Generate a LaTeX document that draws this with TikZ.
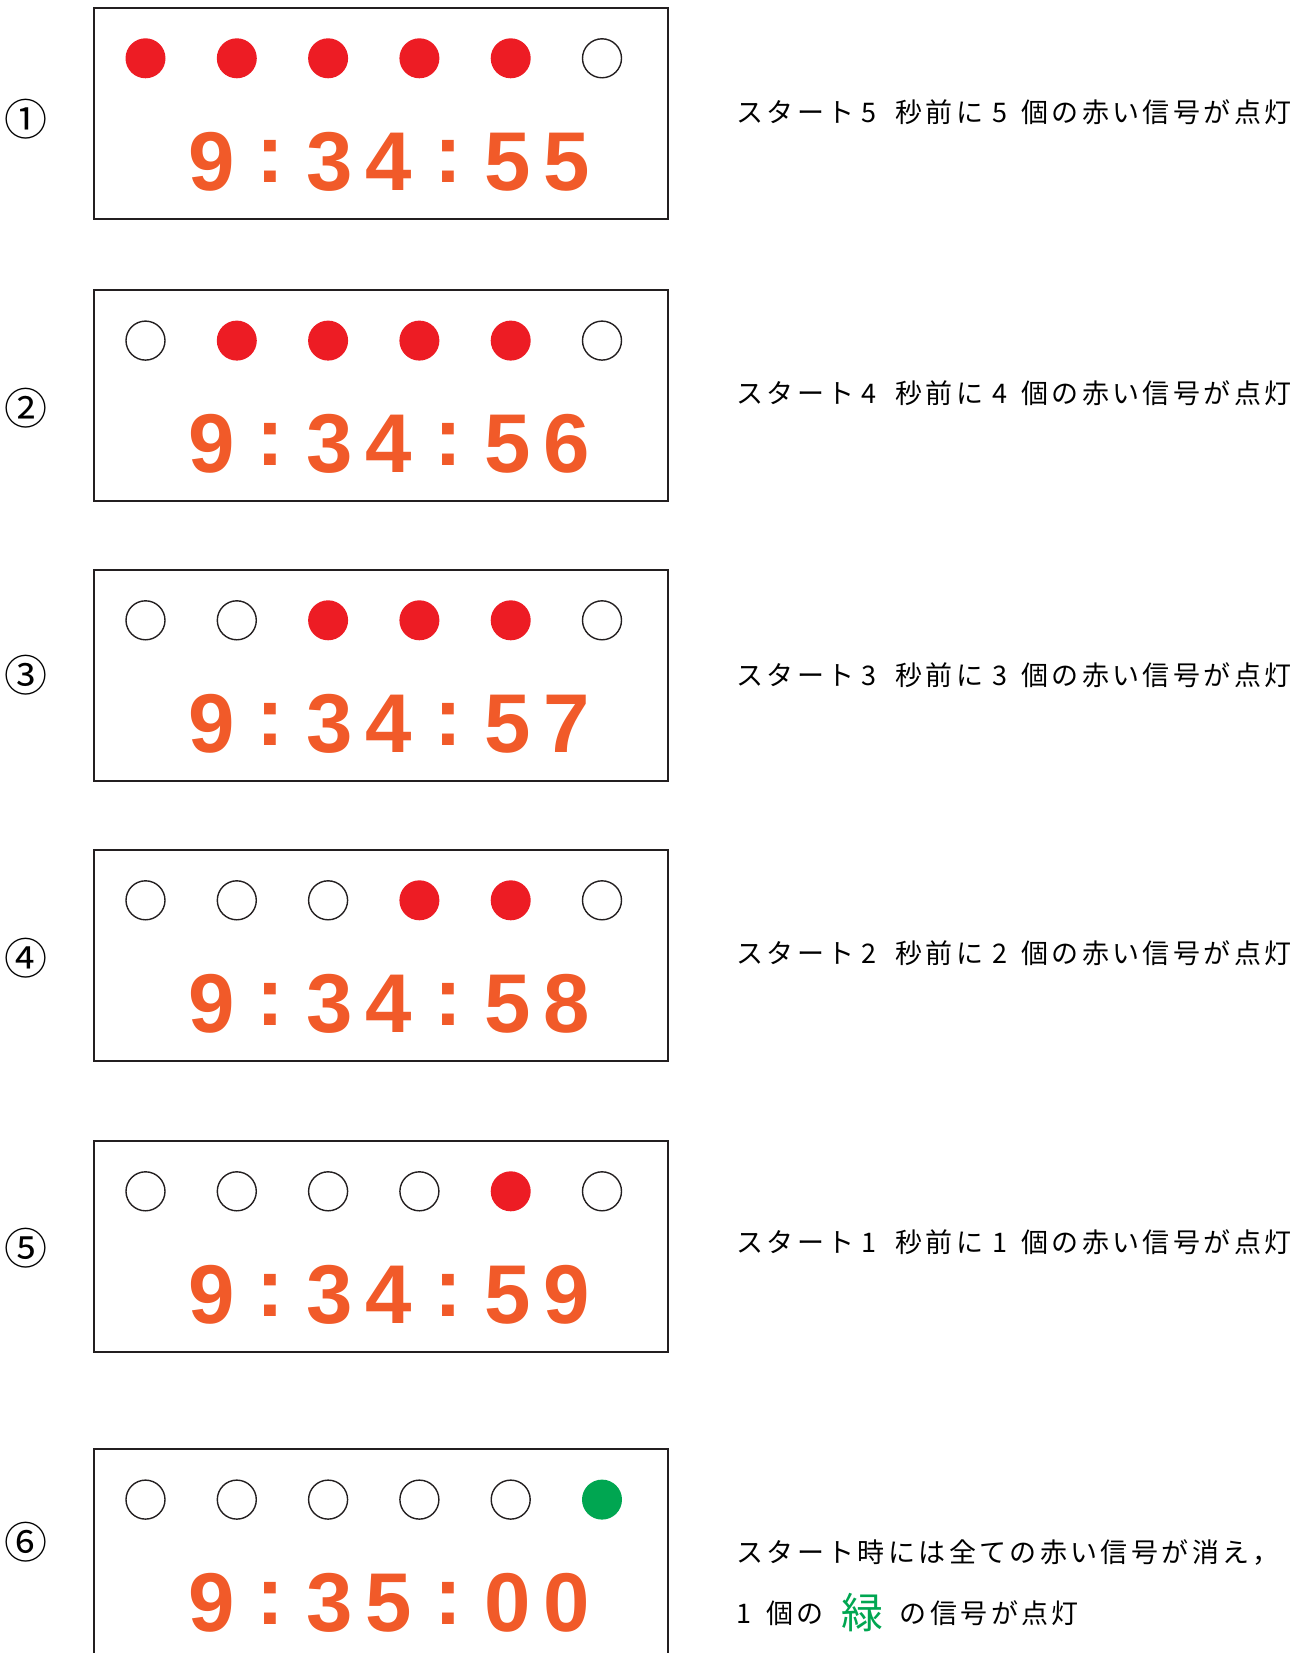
\documentclass[tikz,border=0pt]{standalone}
\usepackage{fontspec}
\setmainfont{Liberation Sans}
\newfontfamily\jpfont{Noto Sans CJK JP}[LetterSpace=12.5]
\newfontfamily\tagfont{Noto Sans CJK JP}
\newfontfamily\clockfont{Liberation Sans}
\definecolor{sigred}{HTML}{ED1C24}
\definecolor{clockorange}{HTML}{F15A29}
\definecolor{siggreen}{HTML}{00A651}
\definecolor{frame}{HTML}{231F20}

\begin{document}
\begin{tikzpicture}[x=0.5pt,y=-0.5pt,
  panel/.style={draw=frame,line width=1pt,minimum width=286.85pt,minimum height=105.5pt,anchor=north west,inner sep=0pt},
  lampoff/.style={circle,draw=frame,line width=0.7pt,minimum size=19.5pt,inner sep=0pt},
  lampred/.style={circle,fill=sigred,minimum size=20pt,inner sep=0pt},
  lampgreen/.style={circle,fill=siggreen,minimum size=20pt,inner sep=0pt},
  digit/.style={anchor=base,inner sep=0pt,text=clockorange,font=\clockfont\bfseries\fontsize{41.7}{42}\selectfont},
  tag/.style={inner sep=0pt,font=\tagfont\fontsize{21.5}{24}\selectfont},
  note/.style={anchor=west,inner sep=0pt,font=\jpfont\fontsize{13.5}{16}\selectfont}]
\useasboundingbox (0,0) rectangle (1313,1653);
\clip (0,0) rectangle (1313,1653);

% one panel per second of the countdown
\foreach \k/\top/\tagy/\tagn/\a/\b/\c/\d in {1/7/119.3/①/3/4/5/5, 2/289.3/407.7/②/3/4/5/6,
    3/569/675/③/3/4/5/7, 4/849/957.7/④/3/4/5/8, 5/1140/1247.7/⑤/3/4/5/9, 6/1448.3/1541.7/⑥/3/5/0/0}{
  \node[panel] (panel\k) at (92.8,\top) {};
  \node[tag] (tag\k) at (26.4,\tagy) {\tagn};
  % lamps
  \foreach \i in {1,...,6}{
    \ifnum\i<\k \def\lampstyle{lampoff}\else\def\lampstyle{lampred}\fi
    \ifnum\i=6 \ifnum\k=6 \def\lampstyle{lampgreen}\else\def\lampstyle{lampoff}\fi\fi
    \node[\lampstyle] (lamp\k-\i) at ({145.5+(\i-1)*91.3},{\top+51.3}) {};
  }
  % clock
  \node[digit] (time\k-1) at (211.4,{\top+183.5}) {9};
  \node[digit] (time\k-2) at (270.2,{\top+176}) {:};
  \node[digit] (time\k-3) at (330,{\top+183.5}) {\a};
  \node[digit] (time\k-4) at (388.5,{\top+183.5}) {\b};
  \node[digit] (time\k-5) at (448,{\top+176}) {:};
  \node[digit] (time\k-6) at (507.8,{\top+183.5}) {\c};
  \node[digit] (time\k-7) at (566.8,{\top+183.5}) {\d};
}

% notes
\foreach \k/\y in {1/112,2/393.4,3/675,4/953.4,5/1242.5}{
  \pgfmathtruncatemacro\n{6-\k}
  \node[note] (note\k) at (736,\y) {スタート\hspace{3.4pt}\n\hspace{9.6pt}秒前に\hspace{4.6pt}\n\hspace{7pt}個の赤い信号が点灯};
}
\node[note] (note6a) at (736,1553) {スタート時には全ての赤い信号が消え，};
\node[note] (note6b) at (736,1613) {1\hspace{7.4pt}個の\hspace{9pt}\raisebox{-2.85pt}{\color{siggreen}\fontsize{21}{24}\selectfont 緑}\hspace{8.2pt}の信号が点灯};
\end{tikzpicture}
\end{document}
